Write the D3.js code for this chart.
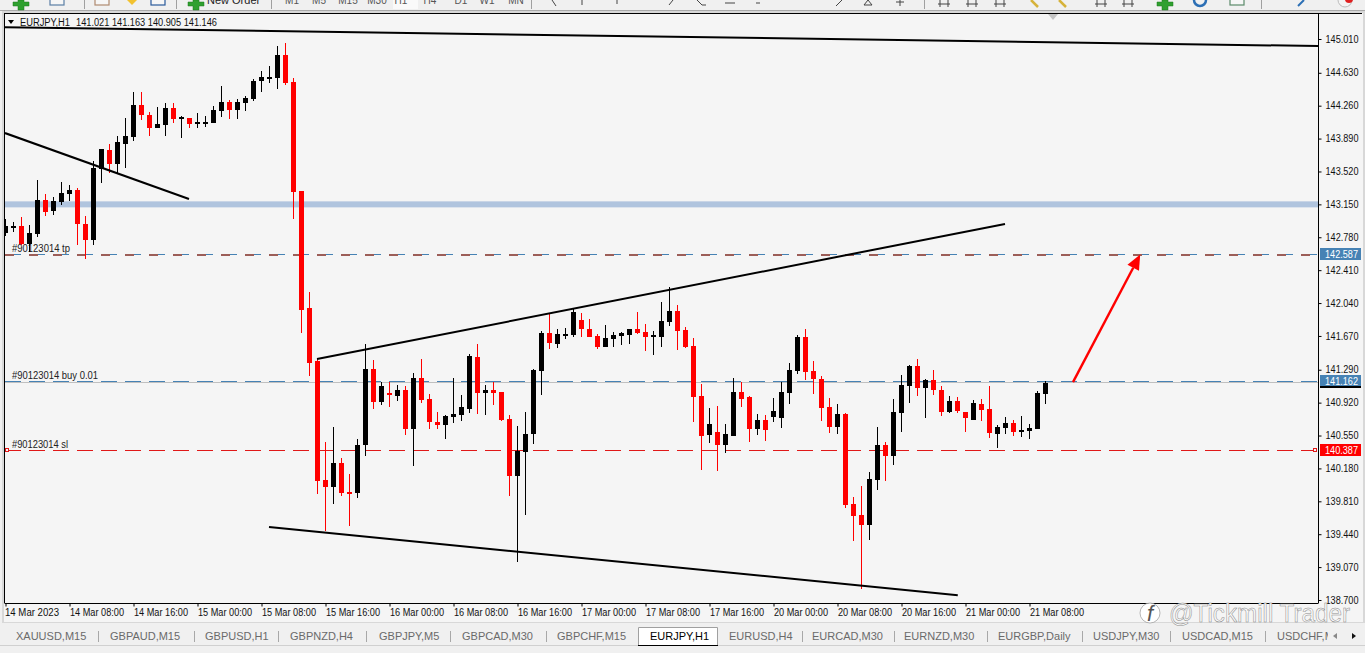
<!DOCTYPE html>
<html>
<head>
<meta charset="utf-8">
<script src="https://cdn.jsdelivr.net/npm/d3@7"></script>
<style>
  html, body { margin: 0; padding: 0; background: #f0f0f0; overflow: hidden; }
  svg { display: block; font-family: "Liberation Sans", Arial, sans-serif; }
</style>
</head>
<body>
<div id="chart"></div>
<script>
// EURJPY,H1 candles, index 0 = 14 Mar 00:00
const opens = [142.828,142.895,142.907,142.704,142.816,143.199,143.075,143.176,143.266,143.311,142.929,142.749,143.548,143.761,143.604,143.829,143.908,144.268,144.155,144.009,144.043,144.234,144.121,144.121,144.054,144.065,144.065,144.200,144.301,144.211,144.290,144.335,144.538,144.571,144.571,144.830,144.526,143.300,141.984,141.388,140.049,139.970,140.240,139.914,139.903,140.443,141.298,140.926,141.028,140.994,141.061,140.623,141.196,140.960,140.701,140.668,140.758,140.780,140.848,141.433,141.028,141.061,141.039,140.735,140.094,140.364,140.566,141.275,141.703,141.579,141.669,141.680,141.849,141.748,141.669,141.545,141.635,141.669,141.680,141.748,141.714,141.658,141.658,141.826,141.950,141.736,141.556,140.994,140.555,140.589,140.443,140.544,141.039,140.983,140.623,140.724,140.758,140.746,141.028,141.275,141.658,141.275,141.185,140.870,140.645,140.791,139.779,139.656,139.543,140.049,140.443,140.319,140.803,141.106,141.331,141.084,141.174,141.061,140.814,140.938,140.814,140.724,140.904,140.848,140.566,140.634,140.690,140.589,140.600,140.623,141.021];
const highs = [142.985,142.952,143.008,142.918,143.424,143.266,143.233,143.401,143.368,143.334,143.019,143.638,143.773,143.829,143.919,144.121,144.414,144.414,144.189,144.245,144.290,144.290,144.144,144.121,144.178,144.144,144.256,144.481,144.324,144.335,144.369,144.560,144.650,144.707,144.932,144.965,144.571,143.300,142.164,141.410,140.476,140.645,140.296,140.116,140.510,141.579,141.399,141.151,141.151,141.118,141.106,141.253,141.410,141.016,140.814,140.780,141.196,141.005,141.466,141.579,141.118,141.151,141.039,140.780,140.656,140.814,141.298,141.725,141.928,141.748,141.759,141.984,141.928,141.860,141.691,141.793,141.714,141.714,141.748,141.939,141.804,141.725,142.051,142.220,142.018,141.770,141.646,141.129,140.859,140.881,140.679,141.196,141.151,140.994,140.791,140.780,140.971,141.151,141.365,141.680,141.748,141.388,141.219,140.971,140.904,140.803,139.858,139.981,140.139,140.645,140.476,140.960,141.230,141.343,141.410,141.185,141.286,141.106,140.994,140.983,140.814,140.949,140.960,141.106,140.668,140.758,140.724,140.769,140.679,141.050,141.163];
const lows = [142.794,142.839,142.693,142.614,142.783,143.019,143.030,143.143,143.188,142.693,142.535,142.693,143.390,143.503,143.503,143.559,143.863,144.099,143.919,144.009,143.919,144.065,143.896,144.009,144.009,144.020,144.065,144.133,144.110,144.110,144.200,144.313,144.414,144.515,144.448,144.493,142.985,141.703,141.219,139.891,139.475,139.779,139.869,139.531,139.846,140.319,140.848,140.893,140.870,140.938,140.555,140.206,140.915,140.623,140.623,140.510,140.690,140.713,140.803,140.791,140.780,140.893,140.713,139.869,139.127,139.656,140.454,141.005,141.523,141.534,141.635,141.658,141.658,141.658,141.523,141.545,141.545,141.568,141.579,141.691,141.500,141.455,141.545,141.781,141.511,141.534,140.701,140.161,140.465,140.150,140.353,140.544,140.870,140.476,140.555,140.488,140.701,140.634,140.904,141.241,141.174,141.016,140.713,140.578,140.566,139.734,139.363,138.823,139.374,139.936,140.038,140.218,140.589,140.915,140.994,140.746,141.005,140.769,140.803,140.803,140.589,140.724,140.713,140.521,140.409,140.566,140.544,140.533,140.510,140.623,140.905];
const closes = [142.907,142.907,142.704,142.828,143.199,143.064,143.188,143.278,143.311,142.929,142.749,143.559,143.773,143.604,143.851,143.919,144.268,144.155,144.009,144.054,144.234,144.110,144.133,144.054,144.076,144.076,144.211,144.301,144.211,144.301,144.347,144.538,144.583,144.583,144.830,144.515,143.289,141.961,141.365,140.038,139.970,140.240,139.903,139.903,140.443,141.298,140.926,141.106,141.005,141.061,140.623,141.196,140.949,140.701,140.668,140.769,140.791,140.870,141.444,141.028,141.061,141.028,140.724,140.094,140.375,140.566,141.286,141.703,141.590,141.691,141.691,141.939,141.748,141.658,141.545,141.646,141.680,141.703,141.748,141.703,141.658,141.680,141.838,141.950,141.725,141.545,140.983,140.544,140.679,140.443,140.566,141.039,140.960,140.623,140.724,140.611,140.825,141.039,141.286,141.658,141.264,141.185,140.859,140.645,140.791,139.768,139.644,139.543,140.060,140.443,140.319,140.814,141.118,141.331,141.084,141.174,141.061,140.814,140.938,140.825,140.746,140.915,140.836,140.578,140.645,140.690,140.589,140.611,140.634,141.028,141.146];
const priceTicks = [145.010,144.630,144.260,143.890,143.520,143.150,142.780,142.410,142.040,141.670,141.290,140.920,140.550,140.180,139.810,139.440,139.070,138.700];
const timeTickBars = [0,8,16,24,32,40,48,56,64,72,80,88,96,104,112,120,128];
const timeTickLabels = ["14 Mar 2023","14 Mar 08:00","14 Mar 16:00","15 Mar 00:00","15 Mar 08:00","15 Mar 16:00","16 Mar 00:00","16 Mar 08:00","16 Mar 16:00","17 Mar 00:00","17 Mar 08:00","17 Mar 16:00","20 Mar 00:00","20 Mar 08:00","20 Mar 16:00","21 Mar 00:00","21 Mar 08:00"];

const supportLevel = 143.150;
const orderLevels = [
  {name: "#90123014 tp", price: 142.587, box: "#4682b4"},
  {name: "#90123014 buy 0.01", price: 141.162, box: "#4682b4"},
  {name: "#90123014 sl", price: 140.387, box: "#ff0000"},
];
// trend lines in [bar, price]
const trendLines = [
  [[0, 145.143], [164.6, 144.930]],
  [[0, 143.952], [23, 143.210]],
  [[39, 141.410], [125, 142.930]],
  [[33, 139.520], [119.1, 138.754]],
];
const targetArrow = [[133.5, 141.151], [141.9, 142.587]];

const symbolTabs = ["XAUUSD,M15","GBPAUD,M15","GBPUSD,H1","GBPNZD,H4","GBPJPY,M5","GBPCAD,M30","GBPCHF,M15","EURJPY,H1","EURUSD,H4","EURCAD,M30","EURNZD,M30","EURGBP,Daily","USDJPY,M30","USDCAD,M15","USDCHF,M"];
const tabStarts = [16,110,205,290,379,462,557,650,729,812,904,998,1093,1182,1277];
const tabSeparators = [98,194,278,366,450,546,802,894,987,1082,1170,1265];
const activeTab = "EURJPY,H1";

const periods = ["M1","M5","M15","M30","H1","H4","D1","W1","MN"];
const periodStarts = [292,319,348,377,401,430,461,487,516];

const width = 1365, height = 653;
const chartLeft = 5, chartRight = 1318, chartTop = 14, chartBottom = 603;

const svg = d3.select('#chart').append('svg').attr('width', width).attr('height', height);

const xScale = d3.scaleLinear().domain([0, 130]).range([5, 1045]);
const yScale = d3.scaleLinear().domain([145.010, 138.700]).range([39, 600]);

// narrow the glyphs a bit, the terminal font is tall and condensed
const squeeze = (selection, length) => selection
  .attr('textLength', length)
  .attr('lengthAdjust', 'spacingAndGlyphs');

// ----------------------------------------------------------------------------
// WINDOW CHROME
// ----------------------------------------------------------------------------
svg.append('rect').attr('width', width).attr('height', height).attr('fill', '#f0f0f0');
svg.append('rect').attr('x', 0).attr('y', 10).attr('width', width).attr('height', 1).attr('fill', '#a9a9a9');

const toolbar = svg.append('g').attr('class', 'toolbar');
[84, 176, 271, 531, 924, 1261].forEach(x => {
  toolbar.append('rect').attr('x', x).attr('y', 0).attr('width', 1).attr('height', 9).attr('fill', '#a0a0a0');
});
toolbar.append('rect').attr('x', 393).attr('y', 0).attr('width', 25).attr('height', 9).attr('fill', '#fafafa');
toolbar.selectAll('.period').data(periods).enter().append('text')
  .attr('class', 'period')
  .attr('x', (d, i) => periodStarts[i])
  .attr('y', 4)
  .attr('text-anchor', 'middle')
  .attr('font-size', 10)
  .attr('fill', '#555')
  .text(d => d);
toolbar.append('text').attr('x', 207).attr('y', 4).attr('font-size', 11).attr('fill', '#222').text('New Order');
// green plus buttons, cut off by the top of the screenshot
[21, 196, 1165].forEach(x => {
  toolbar.append('path')
    .attr('d', `M${x-3},0V2H${x-8}V6H${x-3}V10H${x+3}V6H${x+8}V2H${x+3}V0Z`)
    .attr('fill', '#2fa02f').attr('stroke', '#1e7a1e').attr('stroke-width', 0.5);
});
[[57, '#5b7fa6'], [158, '#2a5a9c'], [102, '#b08a70'], [1237, '#5b8a6a']].forEach(([x, c]) => {
  toolbar.append('rect').attr('x', x - 7).attr('y', -4).attr('width', 14).attr('height', 9)
    .attr('fill', '#f6f6f6').attr('stroke', c).attr('stroke-width', 1.2);
});
toolbar.append('path').attr('d', 'M127,0L132,5L137,0Z').attr('fill', '#f2c230');
[[1036, '#d6b23a'], [1064, '#d6b23a']].forEach(([x, c]) => {
  toolbar.append('path').attr('d', `M${x-5},0L${x+2},7`).attr('stroke', c).attr('stroke-width', 2.5);
});
[944, 972, 1000, 1101, 1128].forEach(x => {
  toolbar.append('path').attr('d', `M${x-6},4H${x+6}M${x-4},0V7M${x+4},0V7`).attr('stroke', '#444').attr('fill', 'none');
});
[[582, 'M582,0V5'], [617, 'M617,0V4'], [671, 'M669,5L673,0'], [701, 'M697,0L702,5H706'], [730, 'M725,3H735'], [758, 'M756,3H760'], [840, 'M836,6L842,0'], [868, 'M864,5H872L868,0Z'], [900, 'M896,2H904M900,0V6'], [554, 'M552,0L556,6']].forEach(([x, d]) => {
  toolbar.append('path').attr('d', d).attr('stroke', '#444').attr('fill', 'none');
});
toolbar.append('circle').attr('cx', 1200).attr('cy', 0).attr('r', 6).attr('fill', 'none').attr('stroke', '#2c6fb5').attr('stroke-width', 2.5);
toolbar.append('path').attr('d', 'M1298,6L1304,0').attr('stroke', '#2c6fb5').attr('stroke-width', 2);
toolbar.append('circle').attr('cx', 1345).attr('cy', 0).attr('r', 7).attr('fill', '#f4f4f4').attr('stroke', '#bbb');
toolbar.append('circle').attr('cx', 1349).attr('cy', -1).attr('r', 4).attr('fill', '#e02020');

// ----------------------------------------------------------------------------
// CHART FRAME
// ----------------------------------------------------------------------------
svg.append('rect').attr('x', 2).attr('y', 11).attr('width', width - 2).attr('height', chartBottom + 20 - 11).attr('fill', '#d8d8d8');
svg.append('rect').attr('x', 4).attr('y', 13).attr('width', width - 6).attr('height', chartBottom + 19 - 13).attr('fill', '#f5f5f5');
svg.append('rect').attr('x', 4).attr('y', 13).attr('width', width - 7).attr('height', 1).attr('fill', '#000');
svg.append('rect').attr('x', 4).attr('y', 13).attr('width', 1).attr('height', chartBottom - 13).attr('fill', '#000');

const plot = svg.append('g').attr('class', 'plot');
plot.append('defs').append('clipPath').attr('id', 'plot-clip')
  .append('rect').attr('x', chartLeft).attr('y', chartTop).attr('width', chartRight - chartLeft).attr('height', chartBottom - chartTop);
const marks = plot.append('g').attr('clip-path', 'url(#plot-clip)');

// ----------------------------------------------------------------------------
// LEVELS
// ----------------------------------------------------------------------------
marks.append('rect')
  .attr('x', chartLeft).attr('width', chartRight - chartLeft)
  .attr('y', yScale(supportLevel) - 3).attr('height', 6)
  .attr('fill', '#b0c4de');

const levelLine = (price, color, dash) => marks.append('line')
  .attr('x1', chartLeft).attr('x2', chartRight)
  .attr('y1', Math.floor(yScale(price)) + 0.5).attr('y2', Math.floor(yScale(price)) + 0.5)
  .attr('stroke', color)
  .attr('stroke-dasharray', dash)
  .attr('shape-rendering', 'crispEdges');

levelLine(orderLevels[0].price, '#4682b4', '16,8');
levelLine(orderLevels[0].price, '#9c5e58', '9,15').attr('stroke-width', 2);
levelLine(closes[closes.length - 1], '#c0c0c0', null); // bid line
levelLine(orderLevels[1].price, '#4682b4', '16,8');
levelLine(orderLevels[2].price, '#e01818', '16,8');

squeeze(marks.selectAll('.order-label').data(orderLevels).enter().append('text')
  .attr('class', 'order-label')
  .attr('x', 12)
  .attr('y', d => yScale(d.price) - 2)
  .attr('font-size', 10)
  .attr('fill', '#222')
  .text(d => d.name), (d, i) => [58, 86, 56][i]);

// ----------------------------------------------------------------------------
// CANDLES
// ----------------------------------------------------------------------------
const bars = opens.map((open, i) => ({i, open, high: highs[i], low: lows[i], close: closes[i]}));
const candleColor = d => d.close >= d.open ? '#000' : '#ff0000';

const candles = marks.selectAll('.candle').data(bars).enter().append('g').attr('class', 'candle');
candles.append('rect')
  .attr('x', d => xScale(d.i))
  .attr('width', 1)
  .attr('y', d => Math.round(yScale(d.high)))
  .attr('height', d => Math.max(1, Math.round(yScale(d.low)) - Math.round(yScale(d.high))))
  .attr('fill', candleColor);
candles.append('rect')
  .attr('x', d => xScale(d.i) - 2)
  .attr('width', 5)
  .attr('y', d => Math.round(yScale(Math.max(d.open, d.close))))
  .attr('height', d => Math.max(2, Math.round(yScale(Math.min(d.open, d.close))) - Math.round(yScale(Math.max(d.open, d.close)))))
  .attr('fill', candleColor);

// ----------------------------------------------------------------------------
// TREND LINES AND TARGET ARROW
// ----------------------------------------------------------------------------
const line = d3.line().x(d => xScale(d[0])).y(d => yScale(d[1]));
marks.selectAll('.trend').data(trendLines).enter().append('path')
  .attr('class', 'trend')
  .attr('d', line)
  .attr('fill', 'none')
  .attr('stroke', '#000')
  .attr('stroke-width', 2);

const [arrowFrom, arrowTo] = targetArrow;
const tipX = xScale(arrowTo[0]), tipY = yScale(arrowTo[1]);
const fromX = xScale(arrowFrom[0]), fromY = yScale(arrowFrom[1]);
const angle = Math.atan2(fromY - tipY, fromX - tipX);
const headLength = 15, headWidth = 6.5;
const baseX = tipX + headLength * Math.cos(angle), baseY = tipY + headLength * Math.sin(angle);
marks.append('line')
  .attr('x1', fromX).attr('y1', fromY).attr('x2', baseX).attr('y2', baseY)
  .attr('stroke', '#ff0000').attr('stroke-width', 2.4);
marks.append('path')
  .attr('d', `M${tipX},${tipY}L${baseX - headWidth * Math.sin(angle)},${baseY + headWidth * Math.cos(angle)}L${baseX + headWidth * Math.sin(angle)},${baseY - headWidth * Math.cos(angle)}Z`)
  .attr('fill', '#ff0000');

// ----------------------------------------------------------------------------
// AXES
// ----------------------------------------------------------------------------
const yAxis = d3.axisRight(yScale)
  .tickValues(priceTicks)
  .tickSize(3)
  .tickPadding(4)
  .tickFormat(d3.format('.3f'));
const yAxisG = svg.append('g').attr('class', 'axis y-axis')
  .attr('transform', `translate(${chartRight + 0.5},0)`)
  .attr('font-family', null)
  .call(yAxis);
yAxisG.select('.domain').attr('d', `M0,${chartTop}V${chartBottom}`).attr('stroke', '#000');
squeeze(yAxisG.selectAll('.tick text').attr('font-size', 10).attr('fill', '#111'), 33);

const xAxis = d3.axisBottom(xScale)
  .tickValues(timeTickBars)
  .tickSize(3)
  .tickFormat((d, i) => timeTickLabels[i]);
const xAxisG = svg.append('g').attr('class', 'axis x-axis')
  .attr('transform', `translate(0.5,${chartBottom + 0.5})`)
  .attr('font-family', null)
  .call(xAxis);
xAxisG.select('.domain').attr('d', `M${chartLeft - 1},0H${chartRight}`).attr('stroke', '#000');
squeeze(xAxisG.selectAll('.tick text')
  .attr('text-anchor', 'start')
  .attr('x', (d, i) => i === 0 ? -1 : 0)
  .attr('y', 5)
  .attr('font-size', 10)
  .attr('fill', '#111'), 54);

// price boxes on the axis
const priceBoxes = svg.selectAll('.price-box').data(orderLevels).enter().append('g').attr('class', 'price-box');
priceBoxes.append('rect')
  .attr('x', chartRight + 2)
  .attr('y', d => Math.round(yScale(d.price)) - 6)
  .attr('width', 41)
  .attr('height', 12)
  .attr('fill', d => d.box);
squeeze(priceBoxes.append('text')
  .attr('x', chartRight + 7)
  .attr('y', d => Math.round(yScale(d.price)) + 4)
  .attr('font-size', 10)
  .attr('fill', '#fff')
  .text(d => d.price.toFixed(3)), 33);
svg.append('rect')
  .attr('x', chartRight + 2).attr('width', 41)
  .attr('y', Math.round(yScale(orderLevels[1].price)) + 5).attr('height', 2)
  .attr('fill', '#000');

// little stop-loss handles
[chartLeft, chartRight - 5].forEach(x => {
  svg.append('rect')
    .attr('x', x + 0.5).attr('y', Math.round(yScale(orderLevels[2].price)) - 1.5)
    .attr('width', 3).attr('height', 3)
    .attr('fill', '#f5f5f5').attr('stroke', '#e01818');
});

// chart legend and shift marker
svg.append('path').attr('d', 'M8,20H14L11,24Z').attr('fill', '#000');
squeeze(svg.append('text').attr('x', 20).attr('y', 26).attr('font-size', 10).attr('fill', '#111').text('EURJPY,H1'), 50);
squeeze(svg.append('text').attr('x', 76).attr('y', 26).attr('font-size', 10).attr('fill', '#111')
  .text([opens, highs, lows, closes].map(s => s[s.length - 1].toFixed(3)).join(' ')), 141);
svg.append('path').attr('d', 'M1048,14H1058L1053,20Z').attr('fill', '#c4c4c4');

// ----------------------------------------------------------------------------
// SYMBOL TABS
// ----------------------------------------------------------------------------
const tabs = svg.append('g').attr('class', 'tabs');
tabs.append('rect').attr('x', 0).attr('y', 626).attr('width', width).attr('height', 19).attr('fill', '#f0f0f0');
tabs.append('rect').attr('x', 0).attr('y', 645).attr('width', width).attr('height', 8).attr('fill', '#f0f0f0');
tabs.append('rect').attr('x', 0).attr('y', 645).attr('width', width).attr('height', 1).attr('fill', '#d0d0d0');
tabs.append('rect').attr('x', 638).attr('y', 627).attr('width', 79).attr('height', 18).attr('fill', '#fff');
tabs.append('path').attr('d', 'M638.5,645V627.5H717.5V645').attr('fill', 'none').attr('stroke', '#a0a0a0');
tabs.append('path').attr('d', 'M638,645.5H718').attr('stroke', '#000');
tabs.selectAll('.tab-sep').data(tabSeparators).enter().append('rect')
  .attr('class', 'tab-sep')
  .attr('x', d => d).attr('y', 631).attr('width', 1).attr('height', 11).attr('fill', '#a8a8a8');
tabs.selectAll('.tab').data(symbolTabs).enter().append('text')
  .attr('class', 'tab')
  .attr('x', (d, i) => tabStarts[i])
  .attr('y', 640)
  .attr('font-size', 11)
  .attr('fill', d => d === activeTab ? '#000' : '#6a6a6a')
  .text(d => d);
tabs.append('rect').attr('x', 1328).attr('y', 627).attr('width', 37).attr('height', 18).attr('fill', '#f0f0f0');
tabs.append('path').attr('d', 'M1337,633V639L1333,636Z').attr('fill', '#888');
tabs.append('path').attr('d', 'M1352,633V639L1356,636Z').attr('fill', '#111');

// watermark
const watermark = svg.append('g').attr('class', 'watermark');
squeeze(watermark.append('text')
  .attr('x', 1169).attr('y', 622)
  .attr('font-size', 25)
  .attr('fill', '#fbfbfb').attr('stroke', '#8a8a8a').attr('stroke-width', 0.5)
  .text('@Tickmill Trader'), 181);
watermark.append('circle').attr('cx', 1150).attr('cy', 613).attr('r', 10).attr('fill', '#fff').attr('stroke', '#999').attr('stroke-width', 0.7);
watermark.append('text')
  .attr('x', 1150).attr('y', 621).attr('text-anchor', 'middle')
  .attr('font-size', 22).attr('font-style', 'italic')
  .attr('fill', '#555')
  .text('f');
</script>
</body>
</html>
